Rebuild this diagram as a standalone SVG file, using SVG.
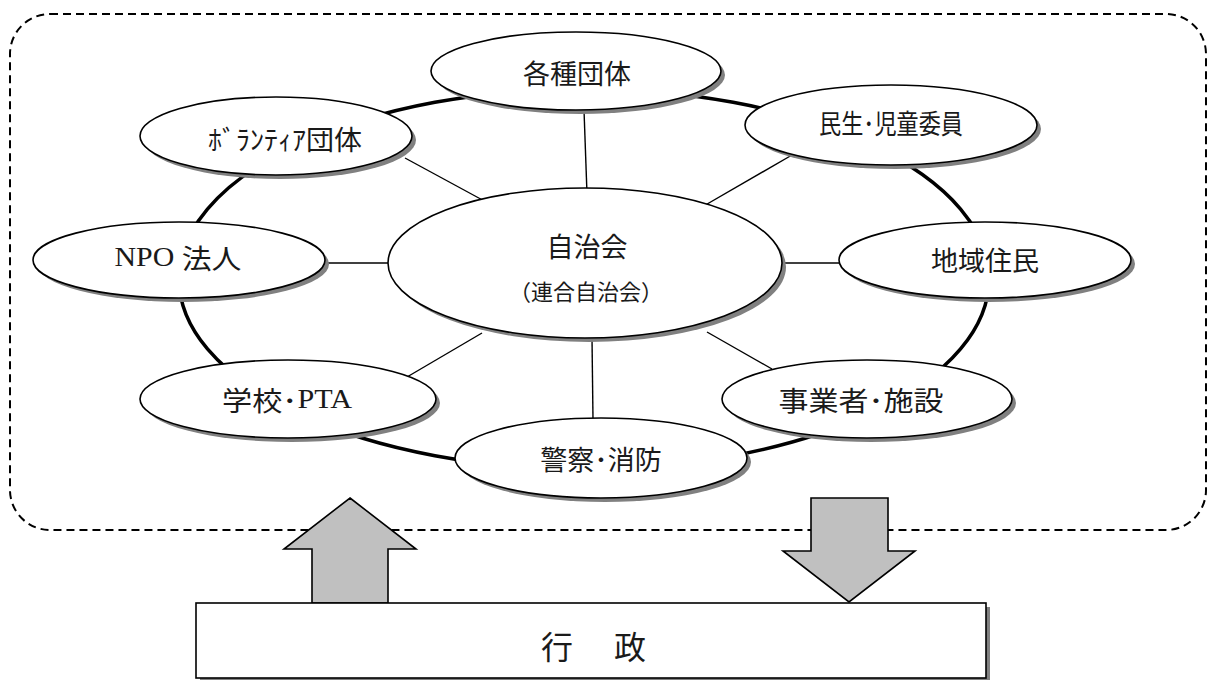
<svg xmlns="http://www.w3.org/2000/svg" width="1207" height="680" viewBox="0 0 1207 680">
<style>
.node{fill:#fff;stroke:#000;stroke-width:1.6}
.shadow{fill:#808080;stroke:none}
.t{font-family:"Noto Sans CJK JP","Noto Sans CJK SC",sans-serif;font-size:27px;fill:#1a1a1a;text-anchor:middle;dominant-baseline:central}
.serif{font-family:"Liberation Serif","Noto Sans CJK JP",serif}
.conn{stroke:#000;stroke-width:1.4;fill:none}
.arrow{fill:#c0c0c0;stroke:#000;stroke-width:1.6;stroke-linejoin:miter}
</style>
<rect width="1207" height="680" fill="#fff"/>
<rect id="frame" x="10" y="14" width="1196" height="516" rx="40" ry="40" fill="none" stroke="#000" stroke-width="2" stroke-dasharray="8 5"/>
<ellipse id="ring" cx="584" cy="279" rx="405" ry="190" fill="none" stroke="#000" stroke-width="3.5"/>
<g id="connectors">
<line class="conn" x1="584" y1="110" x2="587" y2="194"/>
<line class="conn" x1="405" y1="158" x2="488" y2="203"/>
<line class="conn" x1="792" y1="155" x2="702" y2="207"/>
<line class="conn" x1="325" y1="263" x2="390" y2="263"/>
<line class="conn" x1="785" y1="263" x2="840" y2="263"/>
<line class="conn" x1="407" y1="377" x2="482" y2="333"/>
<line class="conn" x1="592" y1="338" x2="593" y2="420"/>
<line class="conn" x1="707" y1="332" x2="772" y2="369"/>
</g>
<g id="n-center">
<ellipse class="shadow" cx="589" cy="267" rx="197" ry="75"/>
<ellipse class="node" cx="585" cy="263" rx="197" ry="75"/>
<text class="t" x="587" y="245">自治会</text>
<text class="t" x="586" y="290" style="font-size:22px">（連合自治会）</text>
</g>
<g id="n-kakushu">
<ellipse class="shadow" cx="580" cy="75" rx="145" ry="39"/>
<ellipse class="node" cx="576" cy="71" rx="145" ry="39"/>
<text class="t" x="577" y="72">各種団体</text>
</g>
<g id="n-volunteer">
<ellipse class="shadow" cx="280" cy="140" rx="136" ry="39"/>
<ellipse class="node" cx="276" cy="136" rx="136" ry="39"/>
<text class="t" x="285" y="138" textLength="154" lengthAdjust="spacingAndGlyphs">ﾎﾞﾗﾝﾃｨｱ団体</text>
</g>
<g id="n-minsei">
<ellipse class="shadow" cx="895" cy="129" rx="146" ry="40"/>
<ellipse class="node" cx="891" cy="125" rx="146" ry="40"/>
<text class="t" x="891" y="122" textLength="144" lengthAdjust="spacingAndGlyphs">民生･児童委員</text>
</g>
<g id="n-npo">
<ellipse class="shadow" cx="183" cy="264" rx="146" ry="38"/>
<ellipse class="node" cx="179" cy="260" rx="146" ry="38"/>
<text class="t" x="178" y="257" textLength="127" lengthAdjust="spacingAndGlyphs"><tspan class="serif">NPO </tspan>法人</text>
</g>
<g id="n-chiiki">
<ellipse class="shadow" cx="989" cy="264" rx="146" ry="38"/>
<ellipse class="node" cx="985" cy="260" rx="146" ry="38"/>
<text class="t" x="985" y="259">地域住民</text>
</g>
<g id="n-gakko">
<ellipse class="shadow" cx="292" cy="403" rx="148" ry="39"/>
<ellipse class="node" cx="288" cy="399" rx="148" ry="39"/>
<text class="t" x="287" y="399" textLength="130" lengthAdjust="spacingAndGlyphs">学校･<tspan class="serif">PTA</tspan></text>
</g>
<g id="n-keisatsu">
<ellipse class="shadow" cx="605" cy="462" rx="146" ry="40"/>
<ellipse class="node" cx="601" cy="458" rx="146" ry="40"/>
<text class="t" x="601" y="458">警察･消防</text>
</g>
<g id="n-jigyo">
<ellipse class="shadow" cx="871" cy="403" rx="145" ry="39"/>
<ellipse class="node" cx="867" cy="399" rx="145" ry="39"/>
<text class="t" x="861" y="399" textLength="165" lengthAdjust="spacingAndGlyphs">事業者･施設</text>
</g>
<g id="arrows">
<polygon class="arrow" points="350,498 416,549 388,549 388,603 312,603 312,549 284,549"/>
<polygon class="arrow" points="811,498 888,498 888,551 915,551 849,602 783,551 811,551"/>
</g>
<g id="n-gyosei">
<rect x="200" y="607" width="790" height="76" fill="#808080"/>
<rect x="196" y="603" width="790" height="75" fill="#fff" stroke="#000" stroke-width="1.6"/>
<text class="t" x="557" y="645" style="font-size:32px">行</text>
<text class="t" x="630" y="645" style="font-size:32px">政</text>
</g>
</svg>
